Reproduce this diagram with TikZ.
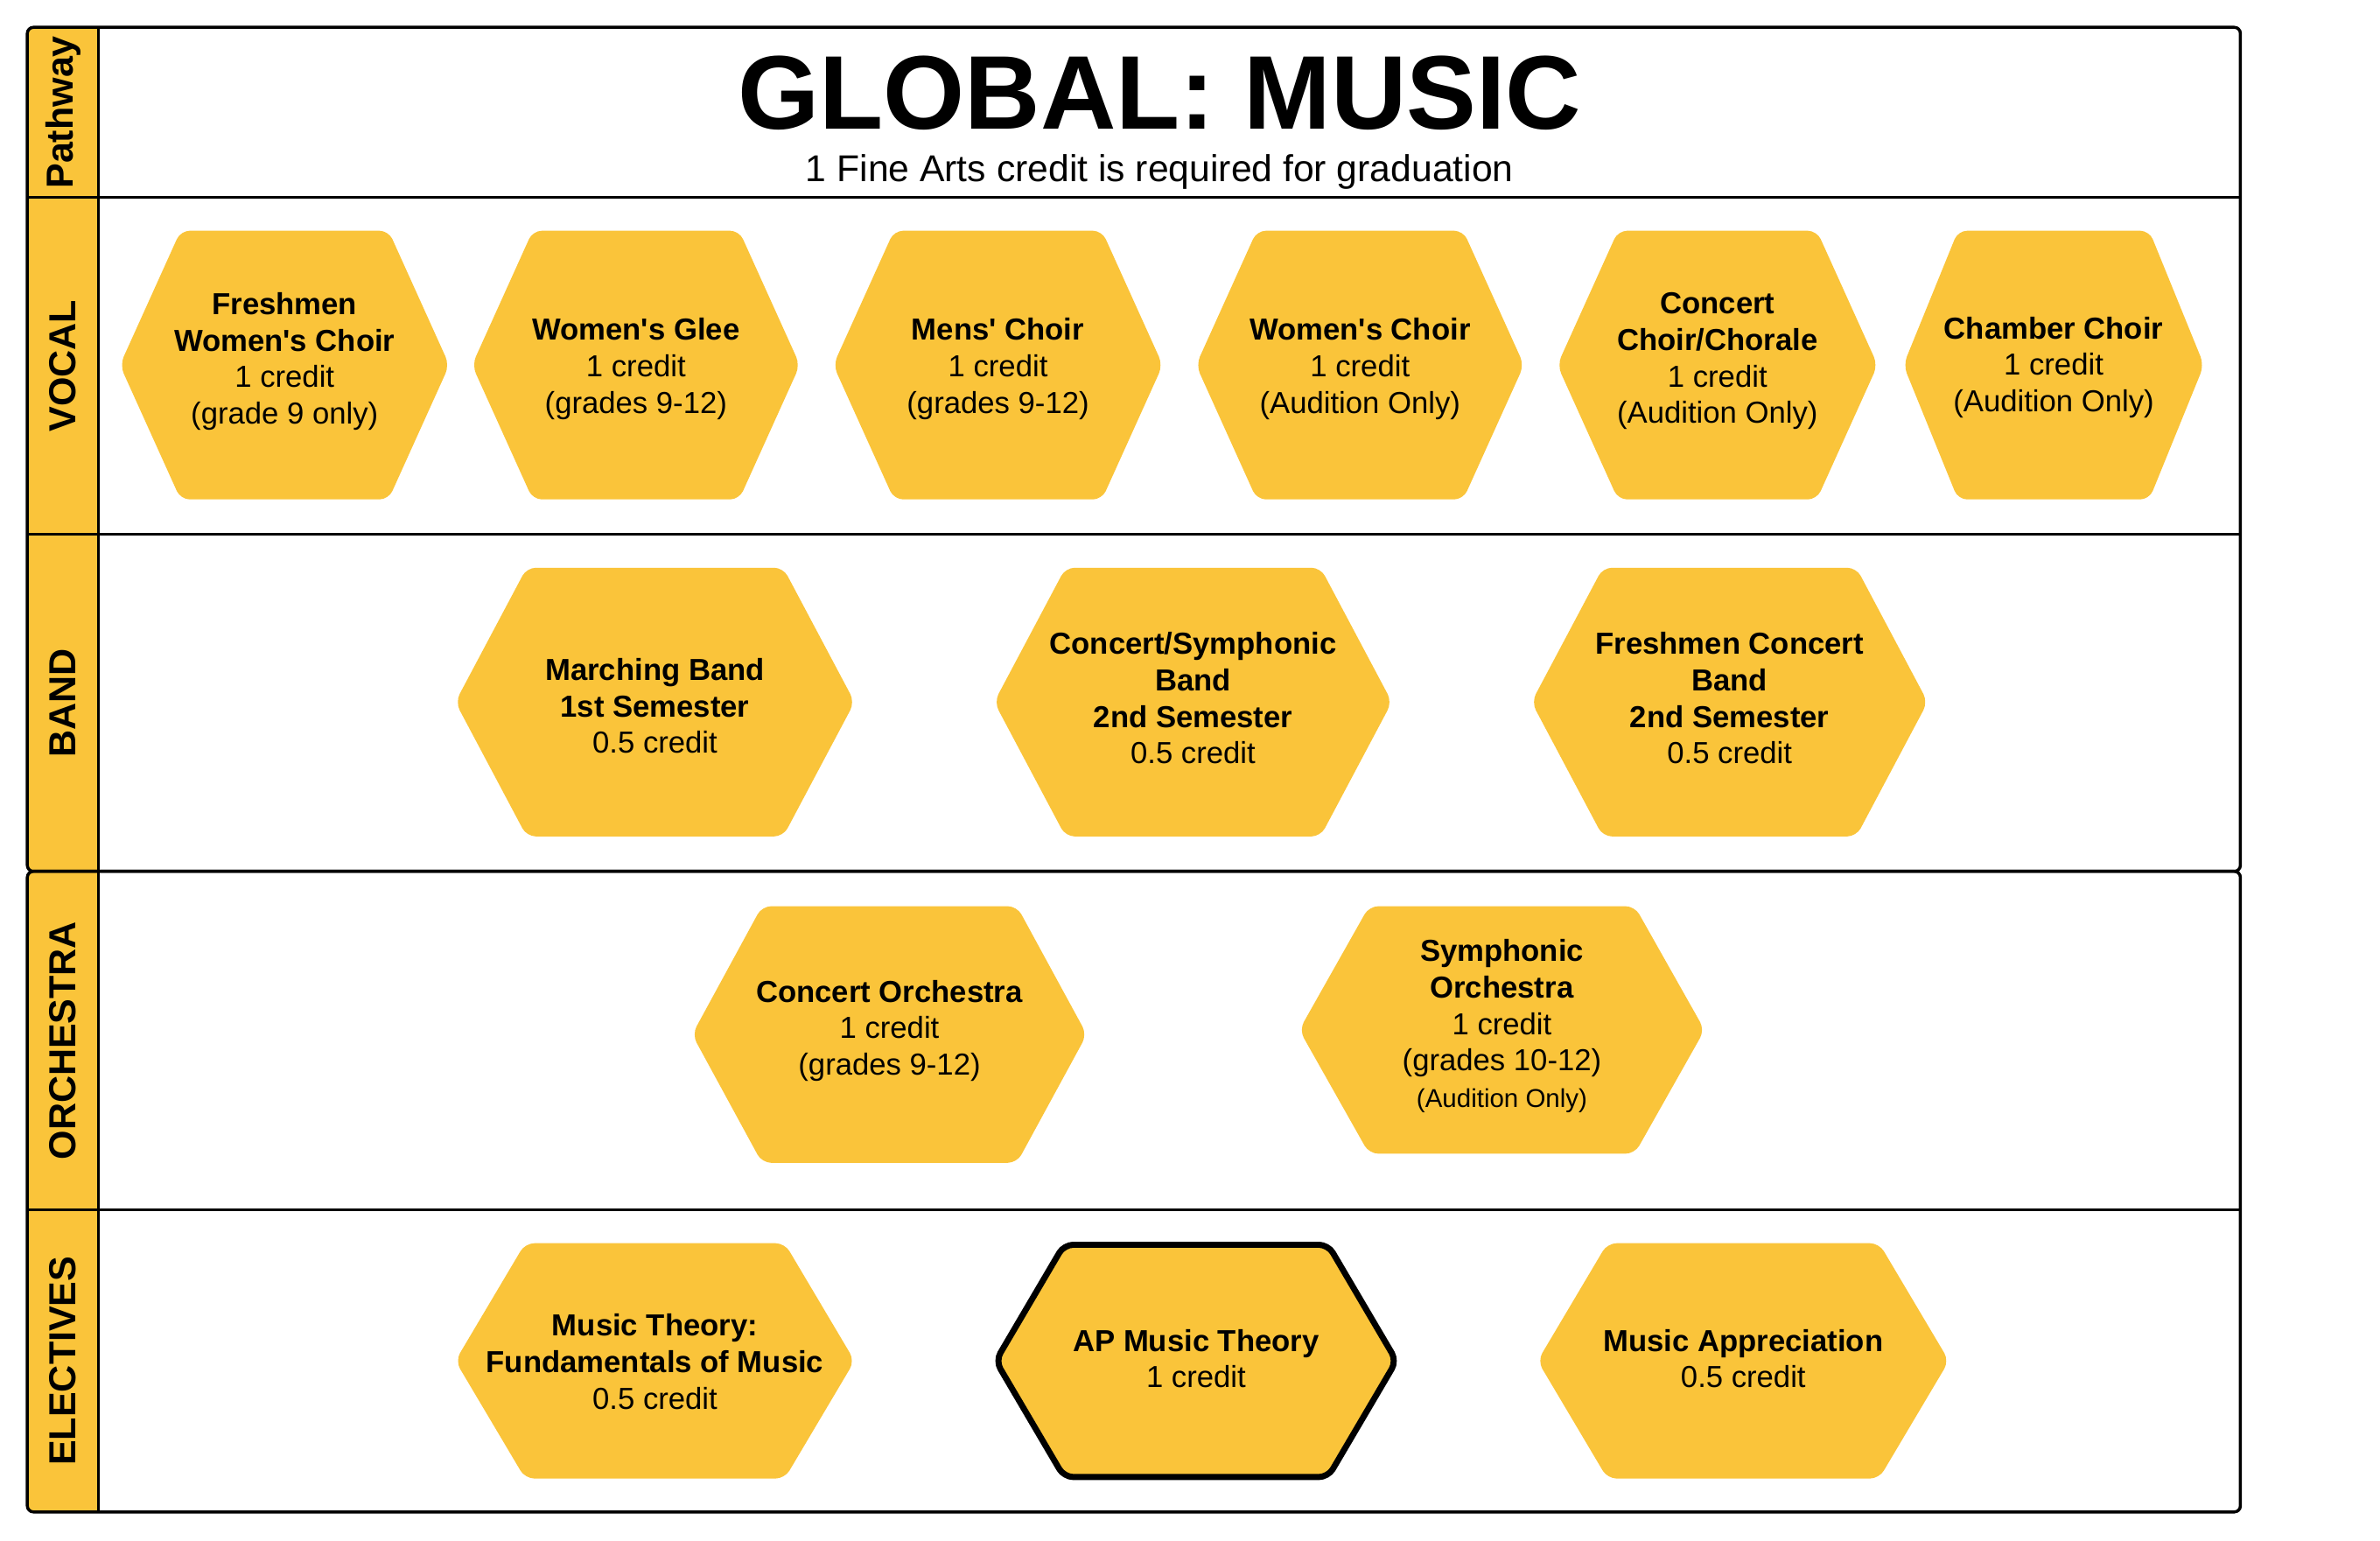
\documentclass[tikz,border=0pt]{standalone}
\usepackage{fontspec}
\setmainfont{Liberation Sans}[Ligatures=TeXOff]
\definecolor{hexyellow}{RGB}{250,196,58}
\tikzset{
  frame/.style={draw=black, line width=2pt},
  strip/.style={fill=hexyellow},
  lanelabel/.style={rotate=90, font=\fontsize{24.8}{28}\selectfont\bfseries, inner sep=0pt},
  hexshape/.style={fill=hexyellow, rounded corners=6pt},
  hexbold/.style={draw=black, line width=4pt},
  hextext/.style={align=center, inner sep=0pt, font=\fontsize{20}{24}\selectfont},
}
% #1 cx, #2 cy, #3 width, #4 height, #5 inset, #6 extra style
\newcommand\hexpath[6]{%
  \path[hexshape,#6] ({#1-#3/2},#2) -- ({#1-#3/2+#5},{#2-#4/2}) -- ({#1+#3/2-#5},{#2-#4/2})
    -- ({#1+#3/2},#2) -- ({#1+#3/2-#5},{#2+#4/2}) -- ({#1-#3/2+#5},{#2+#4/2}) -- cycle;}
\begin{document}
\begin{tikzpicture}[x=1pt,y=-1pt]
\useasboundingbox (0,0) rectangle (1568,1014.6);
% label strips
\fill[strip] (65,18) -- (22,18) [rounded corners=4pt] -- (18,18) -- (18,574) [sharp corners] -- (65,574) -- cycle;
\fill[strip] (65,574) [rounded corners=4pt] -- (18,574) -- (18,996) [sharp corners] -- (65,996) -- cycle;
% frames
\draw[frame, rounded corners=4pt] (18,18) rectangle (1476,574);
\draw[frame, rounded corners=4pt] (18,574) rectangle (1476,996);
\draw[frame] (65,18) -- (65,996);
\draw[frame] (18,130) -- (1476,130);
\draw[frame] (18,352) -- (1476,352);
\draw[frame] (18,797) -- (1476,797);
% lane labels
\node[lanelabel] (lpath) at (41.5,74) {Pathway};
\node[lanelabel] (lvocal) at (41.5,241) {VOCAL};
\node[lanelabel] (lband) at (41.5,463) {BAND};
\node[lanelabel] (lorch) at (41.5,685.5) {ORCHESTRA};
\node[lanelabel] (lelec) at (41.5,896.5) {ELECTIVES};
% title
\node[anchor=base, inner sep=0pt, font=\fontsize{69}{80}\selectfont\bfseries] (title) at (764,85) {GLOBAL: MUSIC};
\node[anchor=base, inner sep=0pt, font=\fontsize{24.6}{28}\selectfont] (subtitle) at (764,119.5) {1 Fine Arts credit is required for graduation};
% vocal
\hexpath{187.5}{240.5}{217}{177}{40}{}
\hexpath{419}{240.5}{216}{177}{40}{}
\hexpath{657.5}{240.5}{217}{177}{40}{}
\hexpath{896}{240.5}{216}{177}{40}{}
\hexpath{1131.5}{240.5}{211}{177}{40}{}
\hexpath{1353}{240.5}{198}{177}{36}{}
\node[hextext] (fwc) at (187.5,238) {\textbf{Freshmen}\\\textbf{Women's Choir}\\1 credit\\(grade 9 only)};
\node[hextext] (wg) at (419,243) {\textbf{Women's Glee}\\1 credit\\(grades 9-12)};
\node[hextext] (mc) at (657.5,243) {\textbf{Mens' Choir}\\1 credit\\(grades 9-12)};
\node[hextext] (wc) at (896,243) {\textbf{Women's Choir}\\1 credit\\(Audition Only)};
\node[hextext] (cc) at (1131.5,238) {\textbf{Concert}\\\textbf{Choir/Chorale}\\1 credit\\(Audition Only)};
\node[hextext] (chc) at (1353,242) {\textbf{Chamber Choir}\\1 credit\\(Audition Only)};
% band
\hexpath{431.5}{462.5}{263}{177}{47}{}
\hexpath{786}{462.5}{262}{177}{47}{}
\hexpath{1139.5}{462.5}{261}{177}{47}{}
\node[hextext] (mb) at (431.5,465) {\textbf{Marching Band}\\\textbf{1st Semester}\\0.5 credit};
\node[hextext] (csb) at (786,460) {\textbf{Concert/Symphonic}\\\textbf{Band}\\\textbf{2nd Semester}\\0.5 credit};
\node[hextext] (fcb) at (1139.5,460) {\textbf{Freshmen Concert}\\\textbf{Band}\\\textbf{2nd Semester}\\0.5 credit};
% orchestra
\hexpath{586}{681.5}{260}{169}{46}{}
\hexpath{989.5}{678.5}{267}{163}{46}{}
\node[hextext] (co) at (586,679) {\textbf{Concert Orchestra}\\1 credit\\(grades 9-12)};
\node[hextext] (so) at (989.5,676) {\textbf{Symphonic}\\\textbf{Orchestra}\\1 credit\\(grades 10-12)\\{\fontsize{17}{24}\selectfont(Audition Only)}};
% electives
\hexpath{431.5}{896.5}{263}{155}{46}{}
\hexpath{788}{896.5}{264}{153}{45}{hexbold}
\hexpath{1148.5}{896.5}{271}{155}{46}{}
\node[hextext] (mt) at (431.5,897) {\textbf{Music Theory:}\\\textbf{Fundamentals of Music}\\0.5 credit};
\node[hextext] (ap) at (788,895) {\textbf{AP Music Theory}\\1 credit};
\node[hextext] (ma) at (1148.5,895) {\textbf{Music Appreciation}\\0.5 credit};
\end{tikzpicture}
\end{document}
